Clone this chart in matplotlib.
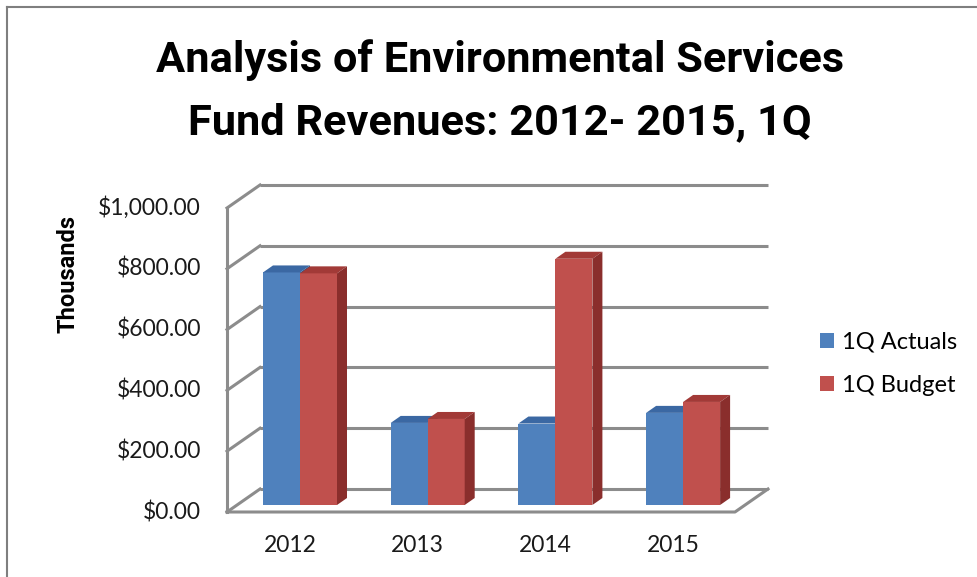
import matplotlib
matplotlib.use("Agg")
import matplotlib.pyplot as plt
from matplotlib.patches import Polygon
from matplotlib.lines import Line2D

# data (thousands of $)
years = ["2012", "2013", "2014", "2015"]
actuals = [765, 270, 268, 303]
budget = [762, 283, 810, 339]
series_names = ["1Q Actuals", "1Q Budget"]
yticks = [0, 200, 400, 600, 800, 1000]
ytick_labels = ["$0.00", "$200.00", "$400.00", "$600.00", "$800.00", "$1,000.00"]
title_lines = ["Analysis of Environmental Services", "Fund Revenues: 2012- 2015, 1Q"]

W, H = 977, 577
fig = plt.figure(figsize=(W / 100, H / 100), dpi=100)

# plot area in pixels, and pixel scale of the bar plane
L, R, T, B = 200, 800, 160, 560
x0, xs = 300, 127.7   # pixel of category 0, pixels per category
y0, ys = 505, 0.304   # pixel of value 0, pixels per unit

ax = fig.add_axes([L / W, 1 - B / H, (R - L) / W, (B - T) / H])
ax.set_xlim((L - x0) / xs, (R - x0) / xs)
ax.set_ylim((y0 - B) / ys, (y0 - T) / ys)
ax.axis("off")

# fake 3d offsets (data units)
FX, FY = -10 / xs, -7 / ys      # bar plane -> front plane
BX, BY = 23 / xs, 16 / ys       # bar plane -> back wall
DX, DY = 10 / xs, 7 / ys        # bar depth
bw = 37 / xs

x_fl = (227 - x0) / xs
x_bl = x_fl + (BX - FX)
x_br = (768 - x0) / xs
x_fr = x_br - (BX - FX)

grid_c = "#8c8c8c"
glw = 2.2
for v in yticks:
    ax.plot([x_bl, x_br], [v + BY, v + BY], color=grid_c, lw=glw, zorder=1,
            solid_capstyle="butt")
    ax.plot([x_fl, x_bl], [v + FY, v + BY], color=grid_c, lw=glw, zorder=1)
ax.plot([x_fl, x_fl], [FY, yticks[-1] + FY], color=grid_c, lw=glw, zorder=1)
ax.plot([x_fl, x_fr, x_br], [FY, FY, BY], color=grid_c, lw=glw, zorder=1)

blue, blue_top = "#4f81bd", "#3b68a3"
red, red_top, red_side = "#c0504d", "#a23a37", "#8a2e2c"

xi = list(range(len(years)))
xb = [i - bw / 2 for i in xi]
xr = [i + bw / 2 for i in xi]
b1 = ax.bar(xb, actuals, width=bw, color=blue, zorder=3, label=series_names[0])
b2 = ax.bar(xr, budget, width=bw, color=red, zorder=5, label=series_names[1])

for i in xi:
    l, r, v = i - bw, i, actuals[i]
    ax.add_patch(Polygon([(l, v), (r, v), (r + DX, v + DY), (l + DX, v + DY)],
                         closed=True, fc=blue_top, ec="none", zorder=4))
    ax.add_patch(Polygon([(r, 0), (r, v), (r + DX, v + DY), (r + DX, DY)],
                         closed=True, fc="#2f5486", ec="none", zorder=2.5))
    l, r, v = i, i + bw, budget[i]
    ax.add_patch(Polygon([(l, v), (r, v), (r + DX, v + DY), (l + DX, v + DY)],
                         closed=True, fc=red_top, ec="none", zorder=6))
    ax.add_patch(Polygon([(r, 0), (r, v), (r + DX, v + DY), (r + DX, DY)],
                         closed=True, fc=red_side, ec="none", zorder=6))

# tick labels
for v, lab in zip(yticks, ytick_labels):
    ax.text(x_fl - 26 / xs, v + FY, lab, ha="right", va="center",
            fontsize=16.5, family="Lato", color="#1a1a1a", clip_on=False)
for i, lab in zip(xi, years):
    ax.text(i + FX, -40 / ys, lab, ha="center", va="center",
            fontsize=16.5, family="Lato", color="#1a1a1a", clip_on=False)

fig.text(68 / W, 1 - 274 / H, "Thousands", rotation=90, ha="center", va="center",
         fontsize=17, fontweight="bold", family="Roboto")

# title, sized so the first line spans about 690 px
t1 = fig.text(500 / W, 1 - 60 / H, title_lines[0], ha="center", va="center",
              fontsize=32, fontweight="bold", family="Roboto")
t2 = fig.text(500 / W, 1 - 123 / H, title_lines[1], ha="center", va="center",
              fontsize=32, fontweight="bold", family="Roboto")
renderer = fig.canvas.get_renderer()
w1 = t1.get_window_extent(renderer).width
size = 32 * 690 / w1
t1.set_fontsize(size)
t2.set_fontsize(size)

ax.legend(handles=[b1, b2], loc="center left",
          bbox_to_anchor=(820 / W, 1 - 364 / H), bbox_transform=fig.transFigure,
          frameon=False, prop={"family": "Lato", "size": 17},
          handlelength=0.6, handleheight=0.6, handletextpad=0.35,
          labelspacing=0.95, borderpad=0, borderaxespad=0)

# outer frame (left and top edges visible)
fig.add_artist(Line2D([7 / W, 7 / W], [0, 1 - 7 / H], transform=fig.transFigure,
                      color="#7f7f7f", lw=1.5))
fig.add_artist(Line2D([7 / W, 1], [1 - 7 / H, 1 - 7 / H], transform=fig.transFigure,
                      color="#7f7f7f", lw=1.5))

fig.savefig("out.png", dpi=100)
